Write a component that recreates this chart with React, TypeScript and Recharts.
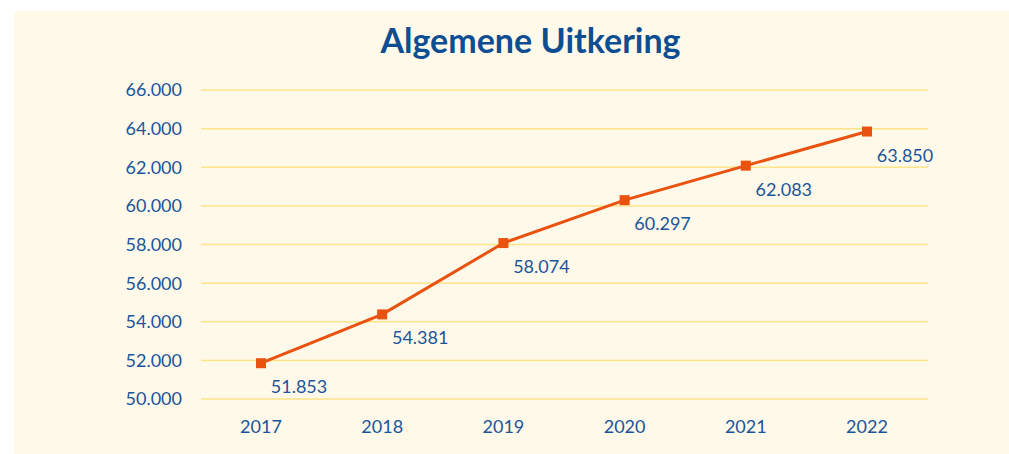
import React from 'react';
import { LineChart, Line, XAxis, YAxis, CartesianGrid, LabelList } from 'recharts';

// jaren en bedragen
const years = ['2017', '2018', '2019', '2020', '2021', '2022'];
const amounts = [51853, 54381, 58074, 60297, 62083, 63850];
const yTicks = [50000, 52000, 54000, 56000, 58000, 60000, 62000, 64000, 66000];

const data = years.map((year, i) => ({ year, amount: amounts[i] }));

const BLUE = '#1A559B';
const ORANGE = '#E9520F';
const FONT = 'Lato, "Open Sans", sans-serif';

const fmt = (v: number) => v.toLocaleString('nl-NL');

const SquareDot = (props: any) => {
  const { cx, cy } = props;
  if (cx == null || cy == null) return null;
  return <rect x={cx - 5} y={cy - 5} width={10} height={10} fill={ORANGE} />;
};

const ValueLabel = (props: any) => {
  const { x, y, value } = props;
  return (
    <text
      x={x + 38}
      y={y + 23}
      textAnchor="middle"
      dominantBaseline="central"
      fill={BLUE}
      fontSize={18}
      fontFamily={FONT}
    >
      {fmt(value)}
    </text>
  );
};

const App: React.FC = () => {
  return (
    <div
      style={{
        position: 'absolute',
        left: 14,
        top: 11,
        width: 995,
        height: 443,
        background: '#FFF9EA',
        fontFamily: FONT,
      }}
    >
      <div
        style={{
          position: 'absolute',
          left: 0,
          right: 0,
          top: 8,
          textAlign: 'center',
          fontSize: 34,
          fontWeight: 700,
          color: '#0E4D92',
          paddingLeft: 38,
        }}
      >
        Algemene Uitkering
      </div>
      <LineChart
        width={995}
        height={443}
        data={data}
        margin={{ top: 79, right: 81, bottom: 25, left: 107 }}
      >
        <CartesianGrid vertical={false} stroke="#FDE38A" strokeWidth={1.5} />
        <XAxis
          dataKey="year"
          axisLine={false}
          tickLine={false}
          height={30}
          tickMargin={15}
          padding={{ left: 60, right: 61 }}
          tick={{ fill: BLUE, fontSize: 18, fontFamily: FONT }}
        />
        <YAxis
          domain={[50000, 66000]}
          ticks={yTicks}
          axisLine={false}
          tickLine={false}
          width={80}
          tickMargin={13}
          tickFormatter={fmt}
          tick={{ fill: BLUE, fontSize: 18, fontFamily: FONT }}
        />
        <Line
          type="linear"
          dataKey="amount"
          stroke={ORANGE}
          strokeWidth={3}
          dot={<SquareDot />}
          activeDot={false}
          isAnimationActive={false}
        >
          <LabelList dataKey="amount" content={<ValueLabel />} />
        </Line>
      </LineChart>
    </div>
  );
};

export default App;
